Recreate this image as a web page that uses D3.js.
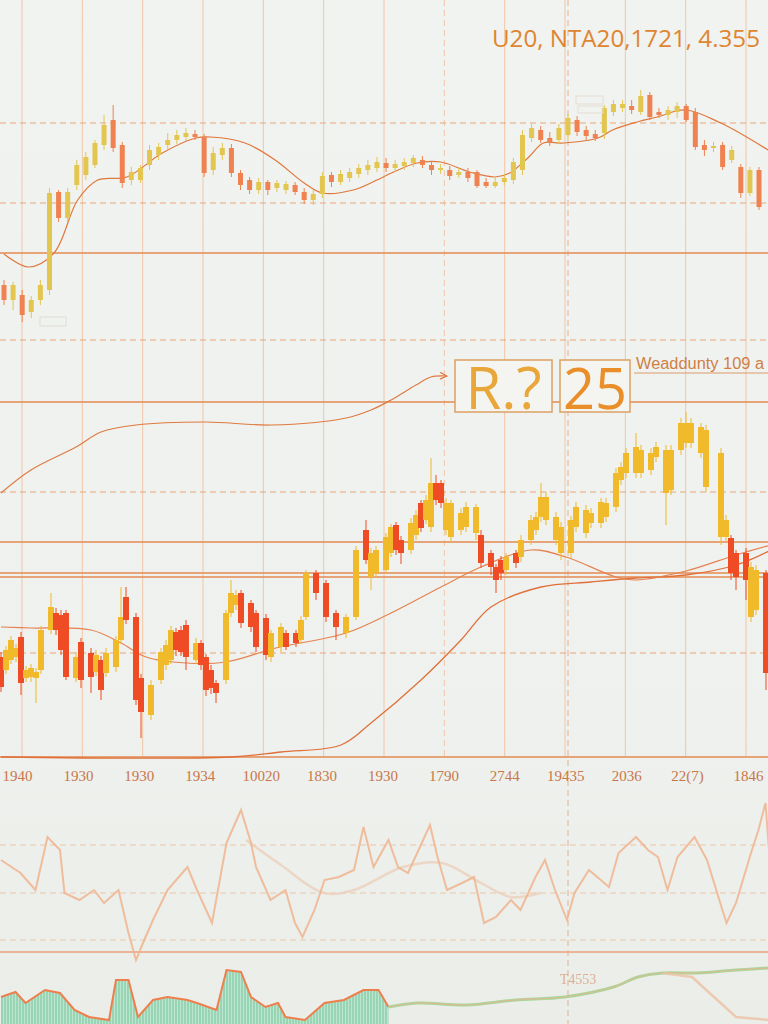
<!DOCTYPE html>
<html><head><meta charset="utf-8">
<script src="https://cdn.jsdelivr.net/npm/d3@7"></script>
<style>html,body{margin:0;padding:0;background:#eef2ee;} svg{display:block}</style>
</head><body>
<svg id="chart" width="768" height="1024"></svg>
<script>
// ---------- DATA ----------
const titleText = "U20, NTA20,1721, 4.355";
const xLabels = ["1940","1930","1930","1934","10020","1830","1930","1790","2744","19435","2036","22(7)","1846"];

// top panel candles: [open, close, high, low]
const topCandles = [
[55,40,60,35],[40,55,58,30],[45,25,50,18],[28,40,44,22],[40,55,60,35],
[50,147,152,45],[148,122,150,118],[122,148,152,118],[155,175,180,150],[165,183,188,160],
[175,197,200,172],[195,215,225,190],[220,192,235,188],[195,157,198,152],[160,168,173,155],
[160,172,175,157],[175,190,195,170],[185,193,197,180],[195,200,207,190],[200,205,210,196],
[203,207,212,199],[206,203,210,200],[203,167,206,163],[170,187,193,165],[185,192,197,180],
[192,167,196,163],[167,155,170,150],[160,150,163,146],[150,158,162,146],[158,150,160,145],
[152,157,160,148],[150,156,159,146],[155,148,158,145],[148,140,152,136],[140,146,150,135],
[146,164,168,142],[165,158,168,153],[158,166,170,155],[162,168,172,158],[166,172,176,162],
[170,175,180,165],[172,178,183,168],[177,172,182,168],[172,176,180,168],[174,178,182,170],
[177,182,185,173],[180,175,184,172],[175,170,178,165],[170,172,176,166],[170,164,174,160],
[165,168,172,162],[168,162,172,158],[168,154,170,152],[158,154,162,152],[154,158,162,152],
[158,162,166,155],[160,178,182,156],[170,205,210,165],[202,212,216,198],[210,200,214,197],
[202,198,208,194],[200,212,216,196],[205,222,226,200],[220,208,224,204],[210,204,214,200],
[206,202,210,199],[207,232,235,201],[228,236,240,224],[232,236,240,228],[234,230,240,226],
[228,244,250,225],[245,223,248,220],[228,225,232,222],[225,230,234,220],[228,234,238,222],
[234,220,236,218],[228,193,232,190],[195,190,200,184],[192,194,198,188],[195,173,198,170],
[180,190,194,177],[173,147,176,142],[147,170,173,144],[170,133,173,130]
];
// top moving average: [bar index, value]
const topMA = [[0,86],[2.7,73],[5.5,87],[8.1,140],[10.3,160],[13.5,163],[17.4,187],[21.1,202],[22.7,203],
[26.5,197],[29.8,180],[33,157],[35,147],[38.4,150],[41,160],[42.6,167],[45.4,177],[48,178],[51.2,168],
[54,163],[55.6,167],[57.7,183],[59.3,197],[61.5,197],[65.3,202],[66.9,210],[69.6,218],[71.8,223],
[74.9,230],[78.8,217],[84,190]];
const topSolidLevels = [87];
const topDashedLevels = [217, 137, 0];

// middle panel candles: [day, open, close, high, low]
const midCandles = [
[0,103,73,108,68],[1,90,110,114,86],[2,100,120,124,96],[3,103,112,116,98],[4,123,77,128,65],
[5,82,90,94,78],[6,83,92,96,78],[7,82,88,92,57],[8,90,130,134,86],[10,130,153,167,126],
[11,147,130,152,125],[12,145,110,150,105],[13,147,83,150,80],[15,82,103,108,78],[16,118,80,122,72],
[18,107,83,112,67],[19,88,105,110,84],[20,100,70,104,60],[21,87,107,112,83],[23,93,120,124,88],
[24,120,143,173,116],[25,163,140,173,136],[27,143,60,147,55],[28,82,48,86,22],[30,45,75,80,40],
[32,80,108,112,76],[33,95,115,120,90],[34,100,130,134,96],[35,128,110,132,104],[36,130,108,134,104],
[37,135,103,140,90],[39,100,117,122,96],[40,117,95,120,90],[41,103,70,106,64],[42,90,72,95,66],
[43,77,67,80,57],[45,80,147,150,76],[46,147,167,180,143],[47,155,165,170,150],[48,167,137,170,132],
[50,157,133,160,128],[51,147,113,150,108],[53,142,105,146,100],[54,103,127,130,98],[56,113,133,137,108],
[57,127,113,130,110],[59,127,117,130,113],[60,120,140,144,116],[61,143,187,190,140],[63,187,167,190,160],
[65,177,143,180,138],[67,147,133,150,120],[69,127,143,146,122],[71,143,210,214,140],[73,230,200,240,196],
[74,183,207,212,170],[75,187,210,214,182],[77,190,223,227,186],[78,207,233,236,203],[79,235,210,238,205],
[80,220,207,224,196],[82,210,237,242,206],[83,225,245,250,220],[84,257,232,260,228],[85,240,260,265,236],
[86,233,277,302,228],[87,277,260,285,255],[88,277,257,280,252],[89,230,257,262,225],[90,223,257,260,218],
[92,230,247,252,225],[93,233,253,258,228],[95,227,253,256,220],[96,225,197,230,192],[98,207,193,210,185],
[99,193,180,196,167],[100,200,187,204,180],[101,190,203,207,185],[103,207,197,210,192],[104,203,220,225,198],
[106,220,240,245,215],[107,230,243,248,225],[108,243,263,277,238],[109,240,263,268,235],[111,220,243,248,215],
[112,207,233,238,200],[114,207,240,244,202],[115,233,253,258,228],[117,227,250,255,222],[118,237,247,252,232],
[120,237,258,262,232],[121,243,257,262,238],[123,253,287,292,248],[124,280,293,298,275],[125,287,307,312,282],
[127,287,313,327,282],[128,287,310,315,282],[130,290,307,312,285],[131,303,313,318,298],[133,267,310,315,235],
[134,270,310,315,265],[136,310,337,342,305],[137,317,337,348,312],[138,317,337,342,312],[140,307,333,337,302],
[141,273,330,335,268],[144,223,307,312,215],[145,223,240,245,218],[146,222,187,225,180],[147,207,183,210,170],
[149,207,180,212,160],[150,143,193,198,138],[151,150,190,195,145],[153,187,87,190,70]
];
// middle panel lines: [day, value]
const midUpperLine = [[0,267],[6,290],[15,313],[20,328],[27,335],[41,338],[54,335],[69,342],[74,350],[78,360],[83,375],[86,383],[89,384]];
const midMA1 = [[0,133],[6,132],[18,130],[24,117],[29,103],[37,97],[45,98],[55,112],[69,127],[78,147],[88,173],[96,193],[106,210],[113,203],[123,183],[127,180],[137,189],[147,205],[154,215]];
const midMA2 = [[0,3],[46,3],[56,8],[68,15],[74,37],[84,80],[92,120],[98,153],[108,173],[118,178],[127,182],[137,185],[147,195],[154,210]];
const midSolidLevels = [358, 218, 187, 183, 3];
const midDashedLevels = [268, 107];

// oscillator panel: [day, value]
const oscLine = [[0,100],[3.9,87],[6.9,70],[9.3,123],[11.8,110],[12.7,67],[15.7,60],[18.6,70],[20.6,57],[23.5,70],
[25.5,27],[27,0],[28.4,17],[30.4,40],[33.3,70],[37.3,93],[39.2,70],[42.2,37],[45.1,117],[48,150],[50,117],[51,93],
[53.9,60],[56.9,70],[58.8,37],[60.3,23],[62.7,50],[64.7,80],[67.6,83],[70.6,90],[72.5,133],[74.5,93],[77.5,120],
[79.4,93],[81.4,87],[85.8,135],[87.3,103],[89.2,70],[92.2,77],[94.6,83],[96.6,37],[99,43],[102,60],[103.9,50],
[106.9,83],[108.8,100],[110.8,70],[113.2,40],[114.7,67],[117.6,90],[121.6,73],[123.5,107],[127,123],[129.4,110],
[131.4,103],[133.3,70],[135.3,103],[138.7,123],[141.2,100],[144.1,53],[145.1,37],[147,57],[150,107],[151.5,130],
[152.9,157],[153.6,110]];
const oscMA = [[49,120],[56,95],[64.6,67],[70.6,70],[80.4,93],[88.2,97],[96,77],[102,63],[107.8,67]];
const oscDashedLevels = [115, 67, 20];
const oscSolidLevels = [8];

// volume-like panel: [day, value]
const volArea = [[0,27],[2.9,32],[4.9,21],[8.8,34],[11.8,31],[14.7,14],[17.6,7],[21.6,4],[23,44],[25.5,44],[27.4,7],
[30.4,24],[33.3,27],[37.3,24],[39.2,21],[43.1,14],[45.1,54],[48,52],[50,27],[52.9,17],[55.4,21],[56.9,7],[60.8,4],
[64.7,21],[68.6,24],[72.5,34],[75.5,34],[77.5,17]];
const volLine = [[77.5,17],[83.3,21],[93.1,19],[102.9,24],[112.7,27],[122.5,37],[127.4,47],[132.4,51],[139.2,51],[147,54],[153.6,56]];
const volDrop = [[132.4,51],[138.2,47],[147,7],[153.6,4]];
const volNote = "T4553";

const boxTexts = ["R.?", "25"];
const sideNote = "Weaddunty 109 a";

// ---------- DRAW ----------
const W = 768, H = 1024;
const svg = d3.select("#chart");
const defs = svg.append("defs");
const bg = defs.append("linearGradient").attr("id","bg").attr("x1",0).attr("y1",0).attr("x2",0).attr("y2",1);
bg.append("stop").attr("offset","0%").attr("stop-color","#f0f3f0");
bg.append("stop").attr("offset","70%").attr("stop-color","#eef1ed");
bg.append("stop").attr("offset","100%").attr("stop-color","#eaede8");
defs.append("filter").attr("id","soft").append("feGaussianBlur").attr("stdDeviation",0.7);
const pat = defs.append("pattern").attr("id","hatch").attr("width",3).attr("height",6).attr("patternUnits","userSpaceOnUse");
pat.append("rect").attr("width",3).attr("height",6).attr("fill","#8fd3b0");
pat.append("rect").attr("width",1).attr("height",6).attr("fill","#b9e4cc");
defs.append("marker").attr("id","arrow").attr("viewBox","0 0 10 10").attr("refX",8).attr("refY",5)
  .attr("markerWidth",7).attr("markerHeight",7).attr("orient","auto")
  .append("path").attr("d","M1,1 L9,5 L1,9").attr("fill","none").attr("stroke","#e07a40").attr("stroke-width",1.5);

svg.append("rect").attr("width",W).attr("height",H).attr("fill","url(#bg)");

// scales
const xGrid = d3.scaleLinear().domain([0,12]).range([22,746]);
const xLab = d3.scaleLinear().domain([0,12]).range([17,748]);
const xTop = d3.scaleLinear().domain([0,83]).range([4,759]);
const yTop = d3.scaleLinear().domain([0,260]).range([340,80]);
const xDay = d3.scaleLinear().domain([0,153]).range([1,766]);
const yMid = d3.scaleLinear().domain([0,350]).range([760,410]);
const yOsc = d3.scaleLinear().domain([0,160]).range([960,800]);
const yVol = d3.scaleLinear().domain([0,60]).range([1024,964]);

const gridCol = "#f1c6a8", lineCol = "#e48a52", dashCol = "#e9a679";

// vertical grid
svg.append("g").selectAll("line").data(d3.range(13)).join("line")
  .attr("x1",d=>xGrid(d)).attr("x2",d=>xGrid(d)).attr("y1",0).attr("y2",757)
  .attr("stroke",gridCol).attr("stroke-width",1)
  .attr("stroke-dasharray",d=> (d===7) ? "6,4" : null);
svg.append("line").attr("x1",xGrid(9)+3).attr("x2",xGrid(9)+3).attr("y1",0).attr("y2",H)
  .attr("stroke","#dfa27c").attr("stroke-width",1).attr("stroke-dasharray","6,4").attr("opacity",0.8);

// horizontal levels
function hLines(vals, yS, dashed, col, w){
  svg.append("g").selectAll("line").data(vals).join("line")
    .attr("x1",0).attr("x2",W).attr("y1",d=>yS(d)).attr("y2",d=>yS(d))
    .attr("stroke",col).attr("stroke-width",w)
    .attr("stroke-dasharray",dashed ? "6,4" : null);
}
hLines(topDashedLevels, yTop, true, dashCol, 1);
hLines(topSolidLevels, yTop, false, lineCol, 1.3);
hLines(midDashedLevels, yMid, true, dashCol, 1);
hLines(midSolidLevels, yMid, false, lineCol, 1.3);
hLines(oscDashedLevels, yOsc, true, "#ecc6aa", 1);
hLines(oscSolidLevels, yOsc, false, "#eab497", 2);

// top MA
svg.append("path").datum(topMA)
  .attr("d", d3.line().x(d=>xTop(d[0])).y(d=>yTop(d[1])).curve(d3.curveCatmullRom))
  .attr("fill","none").attr("stroke","#e0773c").attr("stroke-width",1.2);

// mid lines
const midLineGen = d3.line().x(d=>xDay(d[0])).y(d=>yMid(d[1])).curve(d3.curveCatmullRom);
svg.append("path").datum(midUpperLine).attr("d",midLineGen)
  .attr("fill","none").attr("stroke","#e07a40").attr("stroke-width",1.2).attr("marker-end","url(#arrow)");
svg.append("path").datum(midMA2).attr("d",midLineGen)
  .attr("fill","none").attr("stroke","#e0703a").attr("stroke-width",1.3);
svg.append("path").datum(midMA1).attr("d",midLineGen)
  .attr("fill","none").attr("stroke","#e68250").attr("stroke-width",1.2);

// candles
function candles(data, xf, yS, w, up, down){
  const g = svg.append("g");
  g.selectAll("line").data(data).join("line")
    .attr("x1",(d,i)=>xf(d,i)).attr("x2",(d,i)=>xf(d,i))
    .attr("y1",d=>yS(d.h)).attr("y2",d=>yS(d.l))
    .attr("stroke",d=>d.c>=d.o?up:down).attr("stroke-width",1);
  g.selectAll("rect").data(data).join("rect")
    .attr("x",(d,i)=>xf(d,i)-w/2).attr("width",w)
    .attr("y",d=>yS(Math.max(d.o,d.c)))
    .attr("height",d=>Math.max(1.5, Math.abs(yS(d.o)-yS(d.c))))
    .attr("fill",d=>d.c>=d.o?up:down);
}
const topData = topCandles.map(d=>({o:d[0],c:d[1],h:d[2],l:d[3]}));
candles(topData,(d,i)=>xTop(i),yTop,5,"#e3c650","#ef8250");
const midData = midCandles.map(d=>({t:d[0],o:d[1],c:d[2],h:d[3],l:d[4]}));
candles(midData,d=>xDay(d.t),yMid,6,"#f0ba2b","#ef4b24");

// faint boxes
svg.append("rect").attr("x",576).attr("y",96).attr("width",27).attr("height",8).attr("fill","none").attr("stroke","#e6ddd4");
svg.append("rect").attr("x",578).attr("y",106).attr("width",25).attr("height",7).attr("fill","none").attr("stroke","#e6ddd4");
svg.append("rect").attr("x",40).attr("y",317).attr("width",26).attr("height",9).attr("fill","none").attr("stroke","#e2dcd6");

// oscillator panel
const gOsc = svg.append("g").attr("filter","url(#soft)");
gOsc.append("path").datum(oscMA)
  .attr("d", d3.line().x(d=>xDay(d[0])).y(d=>yOsc(d[1])).curve(d3.curveCatmullRom))
  .attr("fill","none").attr("stroke","#ecd0bc").attr("stroke-width",2.5).attr("opacity",0.8);
gOsc.append("path").datum(oscLine)
  .attr("d", d3.line().x(d=>xDay(d[0])).y(d=>yOsc(d[1])))
  .attr("fill","none").attr("stroke","#f0b48e").attr("stroke-width",2).attr("opacity",0.85);

// volume panel
const gVol = svg.append("g").attr("filter","url(#soft)");
gVol.append("path").datum(volArea)
  .attr("d", d3.area().x(d=>xDay(d[0])).y0(H).y1(d=>yVol(d[1])))
  .attr("fill","url(#hatch)").attr("opacity",0.9);
gVol.append("path").datum(volArea)
  .attr("d", d3.line().x(d=>xDay(d[0])).y(d=>yVol(d[1])))
  .attr("fill","none").attr("stroke","#ee7f4e").attr("stroke-width",2);
gVol.append("path").datum(volLine)
  .attr("d", d3.line().x(d=>xDay(d[0])).y(d=>yVol(d[1])).curve(d3.curveCatmullRom))
  .attr("fill","none").attr("stroke","#a9d79c").attr("stroke-width",3);
gVol.append("path").datum(volLine)
  .attr("d", d3.line().x(d=>xDay(d[0])).y(d=>yVol(d[1])).curve(d3.curveCatmullRom))
  .attr("fill","none").attr("stroke","#eeb08e").attr("stroke-width",1.2).attr("opacity",0.7);
gVol.append("path").datum(volDrop)
  .attr("d", d3.line().x(d=>xDay(d[0])).y(d=>yVol(d[1])))
  .attr("fill","none").attr("stroke","#eec0a4").attr("stroke-width",2.5).attr("opacity",0.8);
svg.append("text").attr("x",578).attr("y",984).attr("text-anchor","middle")
  .attr("font-family","Liberation Serif").attr("font-size",14).attr("fill","#d9a488").attr("opacity",0.85).text(volNote);

// x axis labels
const axis = d3.axisBottom(xLab).tickValues(d3.range(13)).tickFormat(i=>xLabels[i]).tickSize(0).tickPadding(0);
const gAx = svg.append("g").attr("transform","translate(0,772)").call(axis);
gAx.select(".domain").remove();
gAx.selectAll("text").attr("font-family","Liberation Serif").attr("font-size",15)
  .attr("fill","#c8774a").attr("dy","0.6em");

// annotation boxes
const boxes = [{x:455,w:97,t:boxTexts[0],col:"#e9a63a",fs:58},{x:560,w:70,t:boxTexts[1],col:"#e98e28",fs:56}];
boxes.forEach(b=>{
  svg.append("rect").attr("x",b.x).attr("y",360).attr("width",b.w).attr("height",52)
    .attr("fill","#f4f5f0").attr("stroke","#dca062").attr("stroke-width",1.5);
  svg.append("text").attr("x",b.x+b.w/2).attr("y",409).attr("text-anchor","middle")
    .attr("font-family","Open Sans, sans-serif").attr("font-size",b.fs).attr("fill",b.col).text(b.t);
});
svg.append("text").attr("x",636).attr("y",369).attr("font-family","Liberation Sans, sans-serif")
  .attr("font-size",16).attr("fill","#cf7f45").attr("textLength",128).attr("lengthAdjust","spacingAndGlyphs").text(sideNote);
svg.append("line").attr("x1",634).attr("x2",W).attr("y1",373).attr("y2",373).attr("stroke","#dc9a6a").attr("stroke-width",1);

// title
svg.append("text").attr("x",760).attr("y",47).attr("text-anchor","end")
  .attr("font-family","Open Sans, sans-serif").attr("font-size",24).attr("fill","#e0852f")
  .attr("textLength",268).attr("lengthAdjust","spacingAndGlyphs").text(titleText);
</script>
</body></html>
